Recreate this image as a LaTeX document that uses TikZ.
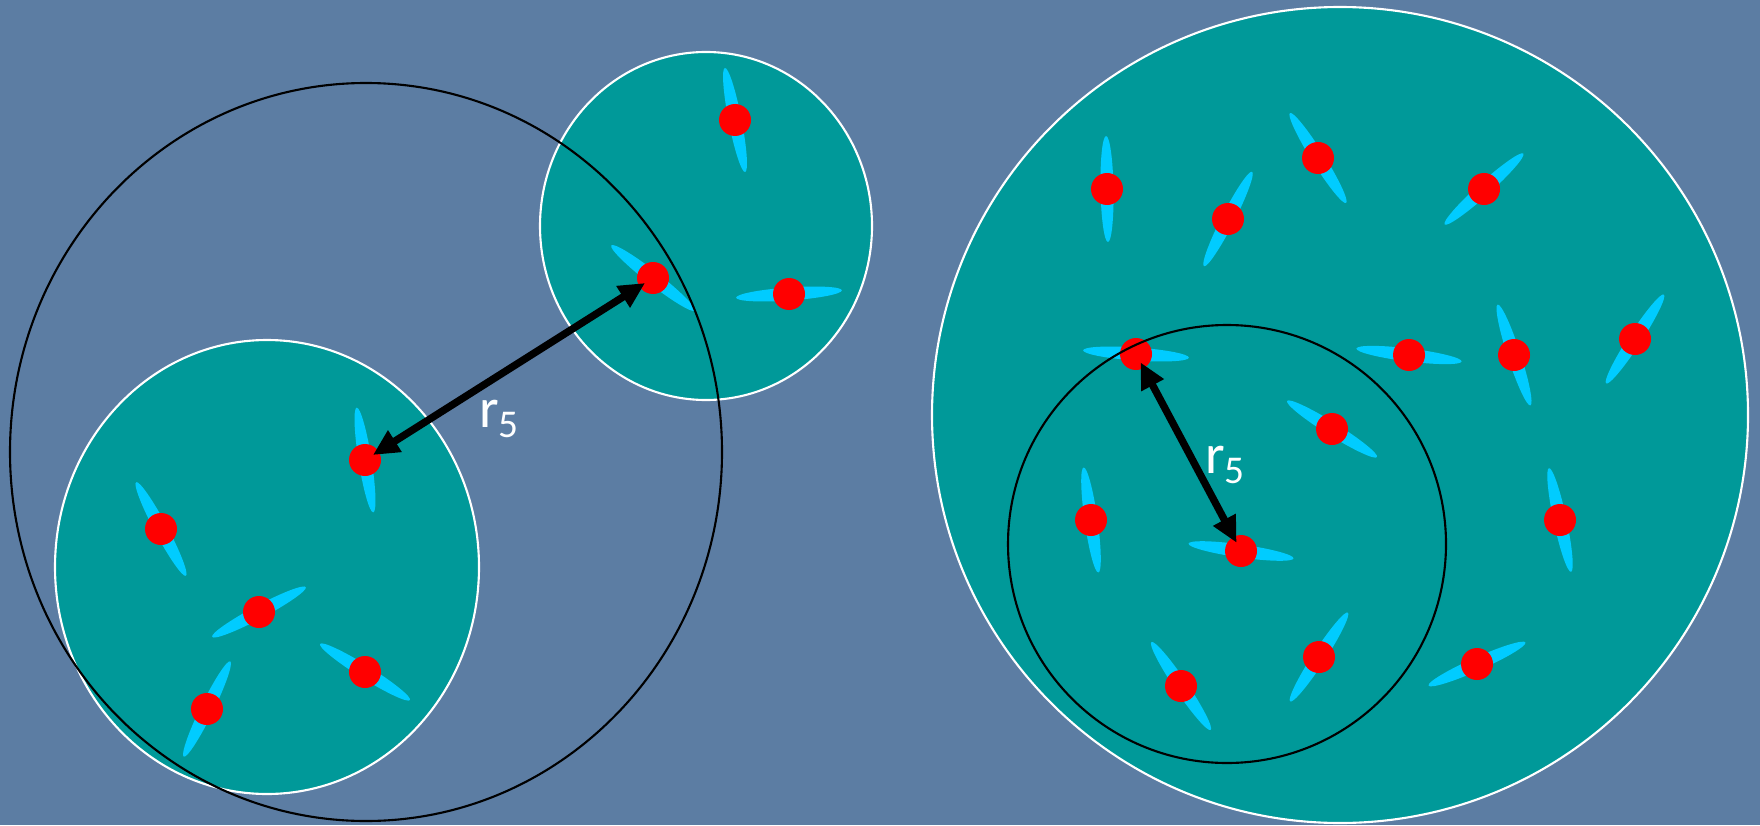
\documentclass[tikz,border=0pt]{standalone}
\usepackage{fontspec}
\setmainfont{Carlito}
\usetikzlibrary{shapes.geometric, arrows.meta, positioning, calc}

\definecolor{bgblue}{RGB}{92,125,163}
\definecolor{tealfill}{RGB}{0,153,153}
\definecolor{sticky}{RGB}{0,204,255}

\begin{document}
\begin{tikzpicture}[x=0.1mm, y=-0.1mm, thick]
    \tikzstyle{cluster} = [fill=tealfill, draw=white, line width=0.6pt]
    \tikzstyle{reach} = [draw=black, line width=0.6pt]
    \tikzstyle{stick} = [ellipse, fill=sticky, inner sep=0pt, minimum width=10.6mm, minimum height=1.3mm]
    \tikzstyle{dot} = [circle, fill=red, inner sep=0pt, minimum size=3.2mm]
    \tikzstyle{line} = [draw, {Triangle[length=2.6mm,width=2.4mm]}-{Triangle[length=2.6mm,width=2.4mm]}, line width=2.1pt, black, shorten >=-0.8mm, shorten <=-0.8mm]
    \tikzstyle{lab} = [text=white, font=\fontsize{16}{19}\selectfont, inner sep=0pt]

    % Background
    \fill[bgblue] (0,0) rectangle (1760,825);
    \useasboundingbox (0,0) rectangle (1760,825);

    % Clusters
    \path[cluster] (267,567) ellipse [x radius=212, y radius=227];
    \path[cluster] (706,226) ellipse [x radius=166, y radius=174];
    \path[cluster] (1340,415) circle [radius=408];

    % Points
    \foreach \x/\y/\a/\n in {365/460/99/a1, 161/529/118/a2, 259/612/28/a3, 365/672/-32/a4, 207/709/64/a5,
                             735/120/101/b1, 653/278/-38/b2, 789/294/4/b3,
                             1107/189/91/c1, 1228/219/63/c2, 1318/158/-58/c3, 1484/189/42/c4,
                             1136/354/-4/c5, 1409/355/-7/c6, 1514/355/108/c7, 1635/339/57/c8,
                             1332/429/-32/c9, 1091/520/98/c10, 1241/551/-8/c11, 1560/520/102/c12,
                             1181/686/-56/c13, 1319/657/57/c14, 1477/664/24/c15}
    {
        \node [stick, rotate=\a] at (\x,\y) {};
        \node [dot] (\n) at (\x,\y) {};
    }

    % Reach circles
    \path[reach] (366,452) ellipse [x radius=356, y radius=369];
    \path[reach] (1227,544) circle [radius=219];

    % Connections
    \path [line] (a1) -- (b2);
    \path [line] (c5) -- (c11);

    % Labels
    \node [lab] (r1) at (500,419) {r\textsubscript{5}};
    \node [lab] (r2) at (1226,465) {r\textsubscript{5}};
\end{tikzpicture}
\end{document}
